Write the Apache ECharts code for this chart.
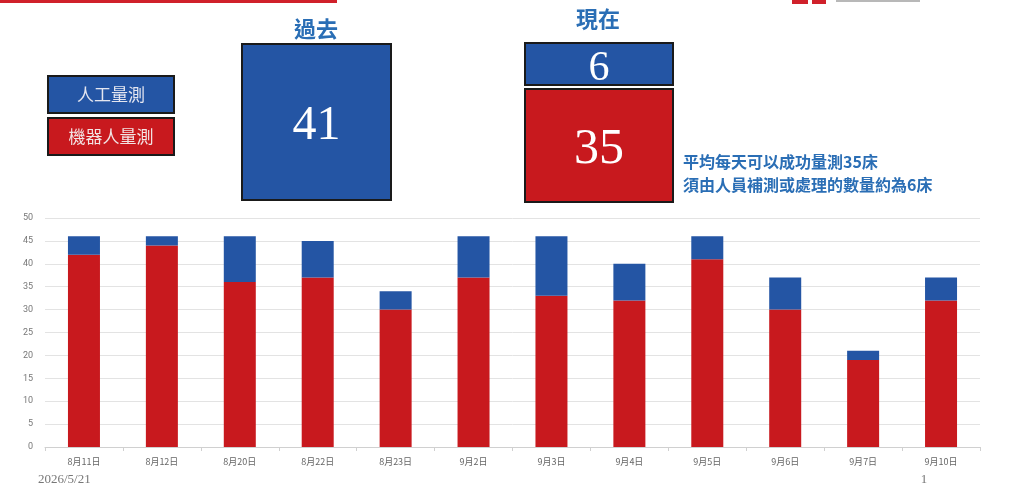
<!DOCTYPE html>
<html>
<head>
<meta charset="utf-8">
<script src="https://cdn.jsdelivr.net/npm/echarts@6/dist/echarts.min.js"></script>
<style>
html,body{margin:0;padding:0;background:#fff;}
#chart{width:1010px;height:486px;}
</style>
</head>
<body>
<div id="chart"></div>
<script>
// Daily measurement counts
const dates = ['8月11日','8月12日','8月20日','8月22日','8月23日','9月2日','9月3日','9月4日','9月5日','9月6日','9月7日','9月10日'];
const robotCounts = [42, 44, 36, 37, 30, 37, 33, 32, 41, 30, 19, 32];
const manualCounts = [4, 2, 10, 8, 4, 9, 13, 8, 5, 7, 2, 5];
const yTicks = [0, 5, 10, 15, 20, 25, 30, 35, 40, 45, 50];

// Summary figures
const pastManual = 41;
const nowManual = 6;
const nowRobot = 35;
const notes = ['平均每天可以成功量測35床', '須由人員補測或處理的數量約為6床'];

const BLUE = '#2455A4';
const RED = '#C8191E';
const TITLE_BLUE = '#2A6EB5';
const CJK = '"Noto Sans CJK TC", "Noto Sans", sans-serif';
const SERIF = '"Liberation Serif", "DejaVu Serif", serif';

const chart = echarts.init(document.getElementById('chart'));

// framed box with a centred label; dy nudges serif digits onto the visual centre
function box(x, y, w, h, fill, label, fontSize, font, color, dy) {
  return [
    { type: 'rect', shape: { x: x, y: y, width: w, height: h },
      style: { fill: fill, stroke: '#1a1a1a', lineWidth: 2 } },
    { type: 'text', x: x + w / 2, y: y + h / 2 + (dy || 0),
      style: { text: label, fill: color, font: fontSize + 'px ' + font,
               align: 'center', verticalAlign: 'middle' } }
  ];
}

const graphics = [].concat(
  // header accent line and corner mark
  [{ type: 'rect', shape: { x: 0, y: 0, width: 337, height: 3 }, style: { fill: '#D0202A' } },
   { type: 'rect', shape: { x: 792, y: 0, width: 16, height: 4 }, style: { fill: '#D0202A' } },
   { type: 'rect', shape: { x: 812, y: 0, width: 14, height: 4 }, style: { fill: '#D0202A' } },
   { type: 'rect', shape: { x: 836, y: 0, width: 84, height: 2 }, style: { fill: '#b8b8b8' } }],
  // legend boxes
  box(48, 76, 126, 37, BLUE, '人工量測', 17, CJK, '#e4e6f0', 0),
  box(48, 118, 126, 37, RED, '機器人量測', 17, CJK, '#f2e4e4', 0),
  // past
  [{ type: 'text', x: 316, y: 29,
     style: { text: '過去', fill: TITLE_BLUE, font: 'bold 22px ' + CJK, align: 'center', verticalAlign: 'middle' } }],
  box(242, 44, 149, 156, BLUE, String(pastManual), 48, SERIF, '#ffffff', 4),
  // now
  [{ type: 'text', x: 598, y: 19,
     style: { text: '現在', fill: TITLE_BLUE, font: 'bold 22px ' + CJK, align: 'center', verticalAlign: 'middle' } }],
  box(525, 43, 148, 42, BLUE, String(nowManual), 42, SERIF, '#ffffff', 5),
  box(525, 89, 148, 113, RED, String(nowRobot), 50, SERIF, '#ffffff', 4),
  // notes
  [{ type: 'text', x: 683, y: 162,
     style: { text: notes[0], fill: TITLE_BLUE, font: 'bold 16px ' + CJK, align: 'left', verticalAlign: 'middle' } },
   { type: 'text', x: 683, y: 185,
     style: { text: notes[1], fill: TITLE_BLUE, font: 'bold 16px ' + CJK, align: 'left', verticalAlign: 'middle' } },
   // footer
   { type: 'text', x: 38, y: 480,
     style: { text: '2026/5/21', fill: '#777777', font: '13px ' + SERIF, align: 'left', verticalAlign: 'middle' } },
   { type: 'text', x: 924, y: 480,
     style: { text: '1', fill: '#777777', font: '13px ' + SERIF, align: 'center', verticalAlign: 'middle' } }]
);

chart.setOption({
  animation: false,
  backgroundColor: '#ffffff',
  grid: { left: 45, right: 30, top: 218, bottom: 39, containLabel: false },
  xAxis: {
    type: 'category',
    data: dates,
    axisLine: { lineStyle: { color: '#d0d0d0' } },
    axisTick: { show: true, length: 4, lineStyle: { color: '#d0d0d0' } },
    axisLabel: { color: '#666666', fontSize: 9, margin: 10, fontFamily: CJK }
  },
  yAxis: {
    type: 'value',
    min: yTicks[0],
    max: yTicks[yTicks.length - 1],
    interval: yTicks[1] - yTicks[0],
    axisLine: { show: false },
    axisTick: { show: false },
    axisLabel: { color: '#777777', fontSize: 9, margin: 12, fontFamily: 'Roboto, sans-serif' },
    splitLine: { lineStyle: { color: '#e3e3e3', width: 1 } }
  },
  series: [
    { name: '機器人量測', type: 'bar', stack: 'total', data: robotCounts, barWidth: 32,
      itemStyle: { color: RED } },
    { name: '人工量測', type: 'bar', stack: 'total', data: manualCounts, barWidth: 32,
      itemStyle: { color: BLUE } }
  ],
  graphic: { elements: graphics }
});
</script>
</body>
</html>
